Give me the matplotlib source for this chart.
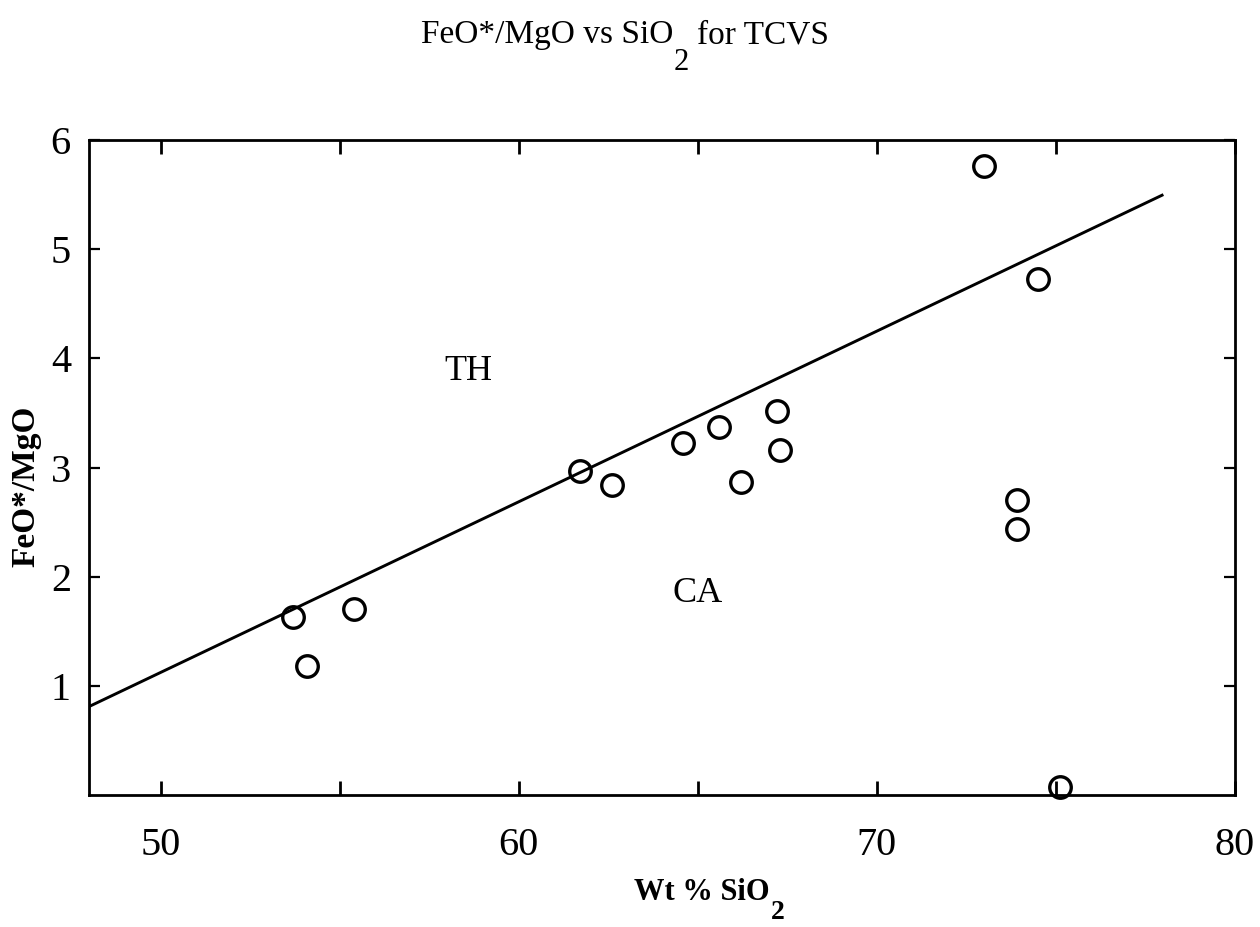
import matplotlib
matplotlib.use("Agg")
import matplotlib.pyplot as plt
from matplotlib.ticker import FixedLocator, NullFormatter

plt.rcParams["font.family"] = ["Liberation Serif", "DejaVu Serif"]

# Whole-rock analyses: SiO2 (wt %) and FeO*/MgO
sio2 = [53.7, 54.1, 55.4, 61.7, 62.6, 64.6, 65.6, 66.2, 67.2, 67.3,
        73.0, 74.5, 73.9, 73.9, 75.1]
feo_mgo = [1.63, 1.18, 1.70, 2.97, 2.84, 3.22, 3.37, 2.87, 3.52, 3.16,
           5.76, 4.73, 2.70, 2.44, 0.07]

# Tholeiitic / calc-alkaline dividing line
boundary_x = [48, 78]
boundary_y = [0.81, 5.5]

x_major = [50, 60, 70, 80]
x_minor = [55, 65, 75]
y_ticks = [1, 2, 3, 4, 5, 6]

W, H = 1260, 927
fig = plt.figure(figsize=(W / 100, H / 100), dpi=100)
ax = fig.add_axes([89 / W, 1 - 795 / H, (1235 - 89) / W, (795 - 140) / H])

ax.plot(boundary_x, boundary_y, color="black", lw=2.1, solid_capstyle="butt")
ax.plot(sio2, feo_mgo, linestyle="none", marker="o", markersize=15.5,
        markerfacecolor="none", markeredgecolor="black", markeredgewidth=2.4,
        clip_on=False, zorder=4)

ax.set_xlim(48, 80)
ax.set_ylim(0, 6)

ax.xaxis.set_major_locator(FixedLocator(x_major))
ax.xaxis.set_minor_locator(FixedLocator(x_minor))
ax.xaxis.set_minor_formatter(NullFormatter())
ax.yaxis.set_major_locator(FixedLocator(y_ticks))

ax.tick_params(axis="x", which="both", direction="in", top=True, bottom=True,
               length=10, width=2, labelsize=29, pad=23)
ax.tick_params(axis="y", which="both", direction="in", left=True, right=True,
               length=8, width=1.6, labelsize=29, pad=13)

for s in ax.spines.values():
    s.set_linewidth(2.0)

ax.text(58.6, 3.88, "TH", fontsize=26, ha="center", va="center")
ax.text(65.0, 1.85, "CA", fontsize=26, ha="center", va="center")

# Title with subscripted 2
fig.text(673 / W, 1 - 43 / H, "FeO*/MgO vs SiO", fontsize=24,
         ha="right", va="baseline")
fig.text(674 / W, 1 - 70 / H, "2", fontsize=22, ha="left", va="baseline")
fig.text(697 / W, 1 - 43 / H, "for TCVS", fontsize=24,
         ha="left", va="baseline")

# Axis labels
fig.text(770 / W, 1 - 900 / H, "Wt % SiO", fontsize=22, fontweight="bold",
         ha="right", va="baseline")
fig.text(771 / W, 1 - 919 / H, "2", fontsize=20, fontweight="bold",
         ha="left", va="baseline")
fig.text(26 / W, 1 - 486 / H, "FeO*/MgO", fontsize=24, fontweight="bold",
         rotation=90, ha="center", va="center")

fig.savefig("out.png", dpi=100, facecolor="white")
